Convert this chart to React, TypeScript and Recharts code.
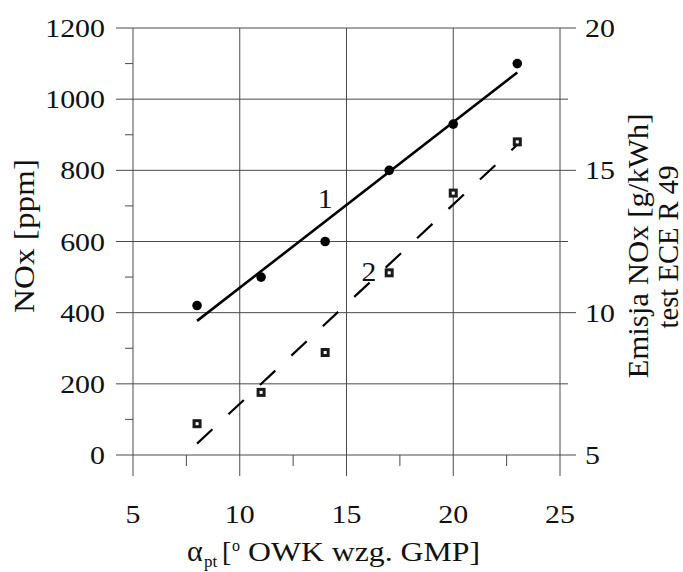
import React from 'react';
import {
  ComposedChart,
  XAxis,
  YAxis,
  Scatter,
  Line,
  ReferenceLine,
  ReferenceDot,
  Customized,
} from 'recharts';

// ---- data ----
const alphaPt = [8, 11, 14, 17, 20, 23];
const noxPpm = [420, 500, 600, 800, 930, 1100];
const emissionGkWh = [6.1, 7.2, 8.6, 11.4, 14.2, 16.0];

const fit1X = [8, 23];
const fit1Y = [377, 1075];
const fit2X = [8, 23];
const fit2Y = [5.4, 15.9];

const xTicks = [5, 7.5, 10, 12.5, 15, 17.5, 20, 22.5, 25];
const leftTicks = [0, 100, 200, 300, 400, 500, 600, 700, 800, 900, 1000, 1100, 1200];
const rightTicks = [5, 7.5, 10, 12.5, 15, 17.5, 20];
const gridX = [10, 15, 20];
const gridY = [200, 400, 600, 800, 1000, 1200];

const curveLabels = [
  { text: '1', x: 14, y: 721, axis: 'left' },
  { text: '2', x: 16.05, y: 11.45, axis: 'right' },
];

const series1 = alphaPt.map((x, i) => ({ x, y: noxPpm[i] }));
const series2 = alphaPt.map((x, i) => ({ x, y: emissionGkWh[i] }));
const fit1 = fit1X.map((x, i) => ({ x, y: fit1Y[i] }));
const fit2 = fit2X.map((x, i) => ({ x, y: fit2Y[i] }));

const FONT = "'Liberation Serif', 'Times New Roman', Times, serif";
const FS = { fontFamily: FONT };
const GRID = '#4a4a4a';
const TXT = '#111';

const LeftTick = (props: any) => {
  const { x, y, payload } = props;
  const v = payload.value;
  const major = v % 200 === 0;
  return (
    <g>
      <line x1={x - (major ? 17 : 8)} x2={x} y1={y} y2={y} stroke={GRID} strokeWidth={1} />
      {major && (
        <text
          transform={`translate(${x - 28},${y + 9}) scale(1.15,1)`}
          textAnchor="end"
          fontSize={26}
          style={FS}
          fill={TXT}
        >
          {v}
        </text>
      )}
    </g>
  );
};

const RightTick = (props: any) => {
  const { x, y, payload } = props;
  const v = payload.value;
  const major = v % 5 === 0;
  return (
    <g>
      <line x1={x} x2={x + (major ? 16 : 8)} y1={y} y2={y} stroke={GRID} strokeWidth={1} />
      {major && (
        <text
          transform={`translate(${x + 25},${y + 9}) scale(1.15,1)`}
          textAnchor="start"
          fontSize={26}
          style={FS}
          fill={TXT}
        >
          {v}
        </text>
      )}
    </g>
  );
};

const BottomTick = (props: any) => {
  const { x, y, payload } = props;
  const v = payload.value;
  const major = v % 5 === 0;
  return (
    <g>
      <line x1={x} x2={x} y1={y} y2={y + (major ? 21 : 11)} stroke={GRID} strokeWidth={1} />
      {major && (
        <text
          transform={`translate(${x},${y + 68}) scale(1.15,1)`}
          textAnchor="middle"
          fontSize={26}
          style={FS}
          fill={TXT}
        >
          {v}
        </text>
      )}
    </g>
  );
};

const Labels = () => (
  <g style={FS} fill={TXT}>
    <text
      transform="translate(34,236) rotate(-90)"
      textAnchor="middle"
      fontSize={29}
      textLength={154}
      lengthAdjust="spacingAndGlyphs"
    >
      NOx [ppm]
    </text>
    <text
      transform="translate(648,246) rotate(-90)"
      textAnchor="middle"
      fontSize={30}
      textLength={265}
      lengthAdjust="spacingAndGlyphs"
    >
      Emisja NOx [g/kWh]
    </text>
    <text
      transform="translate(678,247) rotate(-90)"
      textAnchor="middle"
      fontSize={30}
      textLength={163}
      lengthAdjust="spacingAndGlyphs"
    >
      test ECE R 49
    </text>
    <text x={187} y={561} fontSize={30}>α</text>
    <text x={204} y={567} fontSize={17}>pt</text>
    <text x={222} y={561} fontSize={28}>[</text>
    <text x={232} y={551} fontSize={16}>o</text>
    <text x={248} y={561} fontSize={28} textLength={232} lengthAdjust="spacingAndGlyphs">
      OWK wzg. GMP]
    </text>
  </g>
);

const Dot = (props: any) => <circle cx={props.cx} cy={props.cy} r={4.8} fill="#000" />;
const Square = (props: any) => (
  <rect
    x={props.cx - 3}
    y={props.cy - 3}
    width={6}
    height={6}
    fill="#fff"
    stroke="#1a1a1a"
    strokeWidth={3}
  />
);

export default function App() {
  return (
    <div style={{ position: 'absolute', left: 0, top: 0 }}>
      <ComposedChart width={683} height={572} margin={{ top: 28, right: 0, bottom: 0, left: 0 }}>
        <XAxis
          dataKey="x"
          type="number"
          domain={[5, 25]}
          ticks={xTicks}
          interval={0}
          height={117}
          tickSize={0}
          tickMargin={0}
          tickLine={false}
          axisLine={{ stroke: GRID, strokeWidth: 1 }}
          tick={<BottomTick />}
          allowDataOverflow
        />
        <YAxis
          yAxisId="left"
          dataKey="y"
          type="number"
          domain={[0, 1200]}
          ticks={leftTicks}
          interval={0}
          width={133}
          tickSize={0}
          tickMargin={0}
          tickLine={false}
          axisLine={{ stroke: GRID, strokeWidth: 1 }}
          tick={<LeftTick />}
          allowDataOverflow
        />
        <YAxis
          yAxisId="right"
          orientation="right"
          dataKey="y"
          type="number"
          domain={[5, 20]}
          ticks={rightTicks}
          interval={0}
          width={123}
          tickSize={0}
          tickMargin={0}
          tickLine={false}
          axisLine={{ stroke: GRID, strokeWidth: 1 }}
          tick={<RightTick />}
          allowDataOverflow
        />
        {gridY.map((v) => (
          <ReferenceLine key={'gy' + v} yAxisId="left" y={v} stroke={GRID} strokeWidth={1} />
        ))}
        {gridX.map((v) => (
          <ReferenceLine key={'gx' + v} yAxisId="left" x={v} stroke={GRID} strokeWidth={1} />
        ))}
        <Line
          yAxisId="left"
          data={fit1}
          dataKey="y"
          stroke="#000"
          strokeWidth={2.6}
          dot={false}
          activeDot={false}
          isAnimationActive={false}
        />
        <Line
          yAxisId="right"
          data={fit2}
          dataKey="y"
          stroke="#000"
          strokeWidth={2.2}
          strokeDasharray="21 22"
          dot={false}
          activeDot={false}
          isAnimationActive={false}
        />
        <Scatter yAxisId="left" data={series1} dataKey="y" shape={<Dot />} isAnimationActive={false} />
        <Scatter yAxisId="right" data={series2} dataKey="y" shape={<Square />} isAnimationActive={false} />
        {curveLabels.map((l) => (
          <ReferenceDot
            key={l.text}
            yAxisId={l.axis}
            x={l.x}
            y={l.y}
            r={0}
            shape={(p: any) => (
              <text
                transform={`translate(${p.cx},${p.cy + 9.5}) scale(1.1,1)`}
                textAnchor="middle"
                fontSize={27}
                style={FS}
                fill={TXT}
              >
                {l.text}
              </text>
            )}
          />
        ))}
        <Customized component={Labels} />
      </ComposedChart>
    </div>
  );
}
